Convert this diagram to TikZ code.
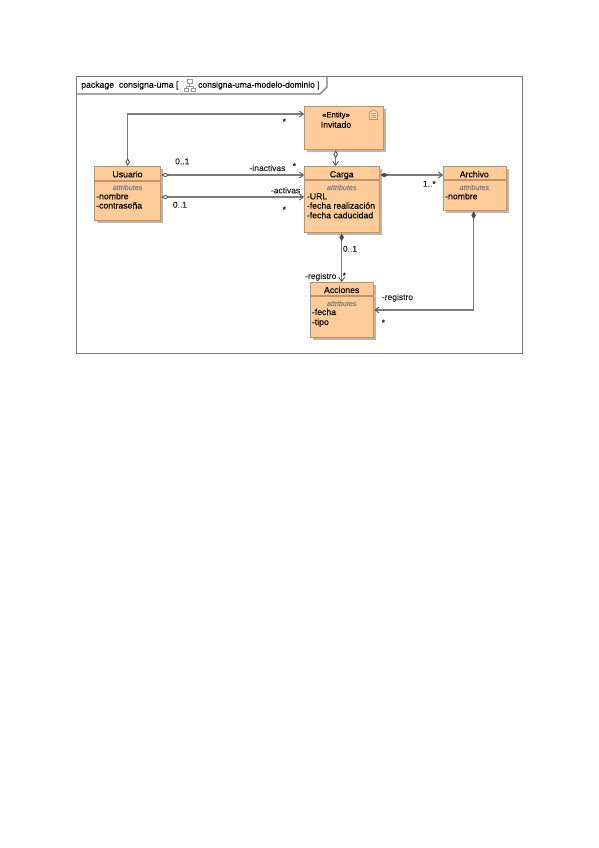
\documentclass[tikz,border=0pt]{standalone}
\usepackage{fontspec}
\setmainfont[FakeBold=0.12]{Liberation Sans}
\usetikzlibrary{arrows.meta,shadows,positioning}
\definecolor{boxfill}{HTML}{FFCC99}
\definecolor{boxline}{HTML}{BC9468}
\definecolor{wire}{HTML}{7C7C7C}
\definecolor{framec}{HTML}{7A7A7A}
\tikzset{
  umlbox/.style={draw=boxline,line width=1.3pt,fill=boxfill,anchor=north west,inner sep=0pt,
     drop shadow={shadow xshift=2pt,shadow yshift=-2pt,fill=black!40,opacity=0.7}},
  sepline/.style={draw=boxline,line width=1.3pt},
  title/.style={anchor=base,inner sep=0pt,font=\fontsize{8.7}{10}\selectfont,text=black},
  attrhead/.style={anchor=base,inner sep=0pt,font=\fontsize{7.2}{9}\selectfont\itshape,text=black!50},
  attr/.style={anchor=base west,inner sep=0pt,font=\fontsize{8.7}{10}\selectfont,text=black},
  lbl/.style={anchor=base west,inner sep=0pt,font=\fontsize{8.5}{10}\selectfont,text=black!85},
  star/.style={anchor=center,inner sep=0pt,font=\fontsize{8.5}{10}\selectfont,text=black!85},
  conn/.style={draw=wire,line width=1.3pt},
  hollowd/.style={{Diamond[open,length=8pt,width=4.5pt,line width=0.9pt,fill=white,color=black!65]}-{Straight Barb[length=4pt,width=6pt,line width=0.9pt,color=black!65]}},
  filledd/.style={{Diamond[length=8pt,width=4.5pt,color=black!70]}-{Straight Barb[length=4pt,width=6pt,line width=0.9pt,color=black!65]}},
}
\begin{document}
\begin{tikzpicture}[x=1pt,y=-1pt]
\useasboundingbox (0,0) rectangle (599,848);
\fill[white] (0,0) rectangle (599,848);
% frame
\node[draw=framec,line width=1.3pt,anchor=north west,minimum width=446pt,minimum height=277pt,inner sep=0pt] (frame) at (76,76) {};
\draw[framec,line width=1.3pt] (frame.north west |- 0,94) -- (320,94) -- (327,87) -- (327,76);
\node[anchor=base west,inner sep=0pt,font=\fontsize{8.7}{10}\selectfont] (h1) at (81,87.7) {package\ \ consigna-uma [};
\node[anchor=base west,inner sep=0pt,font=\fontsize{8.5}{10}\selectfont] (h2) at (198,87.7) {consigna-uma-modelo-dominio ]};
% header icon
\draw[black!40,line width=0.6pt] (184,88) rectangle (188,91.5) (191,88) rectangle (195.5,91.5) (187,79) rectangle (192,83) (189.5,83) -- (189.5,86) (186,86) -- (193,86) (186,86) -- (186,88) (193,86) -- (193,88);
% boxes
\node[umlbox,minimum width=79pt,minimum height=43pt] (inv) at (304,106) {};
\node[umlbox,minimum width=75pt,minimum height=66pt] (carga) at (304,166) {};
\node[umlbox,minimum width=63pt,minimum height=44pt] (arch) at (443,166) {};
\node[umlbox,minimum width=66pt,minimum height=54pt] (usu) at (94,166) {};
\node[umlbox,minimum width=63pt,minimum height=55pt] (acc) at (310,282) {};
% compartment lines
\draw[sepline] (usu.west |- 0,181) -- (usu.east |- 0,181);
\draw[sepline] (carga.west |- 0,180) -- (carga.east |- 0,180);
\draw[sepline] (arch.west |- 0,180) -- (arch.east |- 0,180);
\draw[sepline] (acc.west |- 0,296) -- (acc.east |- 0,296);
% Invitado
\node[anchor=base,inner sep=0pt,font=\fontsize{7.6}{9}\selectfont] (invs) at (336,117.3) {«Entity»};
\node[title] (invt) at (336,127.7) {Invitado};
% entity icon
\draw[boxline,line width=0.7pt,fill=boxfill!60!white] (369.5,119.5) -- (369.5,112.5) -- (373.5,109.7) -- (377.5,112.5) -- (377.5,119.5) -- cycle;
\draw[boxline,line width=0.5pt] (371,113) -- (376,113) (371,115) -- (376,115) (371,117) -- (376,117);
% Usuario
\node[title] (ut) at (127.5,177.3) {Usuario};
\node[attrhead] (ua) at (127.5,190) {attributes};
\node[attr] (u1) at (96,199.3) {-nombre};
\node[attr] (u2) at (96,208.5) {-contraseña};
% Carga
\node[title] (ct) at (341.7,177.3) {Carga};
\node[attrhead] (ca) at (341.7,190) {attributes};
\node[attr] (c1) at (306.7,199.3) {-URL};
\node[attr] (c2) at (306.7,208.7) {-fecha realización};
\node[attr] (c3) at (306.7,218.3) {-fecha caducidad};
% Archivo
\node[title] (at) at (474.3,177.3) {Archivo};
\node[attrhead] (aa) at (474.3,190) {attributes};
\node[attr] (a1) at (445,199.3) {-nombre};
% Acciones
\node[title] (kt) at (341.7,293) {Acciones};
\node[attrhead] (ka) at (341.7,306) {attributes};
\node[attr] (k1) at (311.7,315) {-fecha};
\node[attr] (k2) at (311.7,325) {-tipo};
% connectors
\draw[conn,hollowd] (usu.north) |- ([yshift=-8pt]inv.north west);
\draw[conn,hollowd] ([xshift=-6.5pt]carga.north |- inv.south) -- ([xshift=-6.5pt]carga.north);
\draw[conn,hollowd] ([yshift=-9pt]usu.north east) -- ([yshift=-9pt]carga.north west);
\draw[conn,hollowd] ([yshift=-31pt]usu.north east) -- ([yshift=-31pt]carga.north west);
\draw[conn,filledd] ([yshift=-9pt]carga.north east) -- ([yshift=-9pt]arch.north west);
\draw[conn,filledd] ([xshift=-0.5pt]carga.south) -- ([xshift=-0.5pt]carga.south |- acc.north);
\draw[conn,filledd] ([xshift=-1.5pt]arch.south) |- ([yshift=-28pt]acc.north east);
% labels
\node[star] (s1) at (284.3,121.5) {*};
\node[lbl] (l1) at (175,164.3) {0..1};
\node[lbl] (l2) at (249.3,171) {-inactivas};
\node[star] (s2) at (294.3,166) {*};
\node[lbl] (l3) at (270.7,193.3) {-activas};
\node[lbl] (l4) at (172.7,207.7) {0..1};
\node[star] (s3) at (284.3,209.5) {*};
\node[lbl] (l5) at (422.7,186.7) {1..*};
\node[lbl] (l6) at (342.7,251.7) {0..1};
\node[lbl] (l7) at (305,279) {-registro};
\node[star] (s4) at (344.3,275.5) {*};
\node[lbl] (l8) at (381.7,300) {-registro};
\node[star] (s5) at (383.3,322.5) {*};
\end{tikzpicture}
\end{document}
